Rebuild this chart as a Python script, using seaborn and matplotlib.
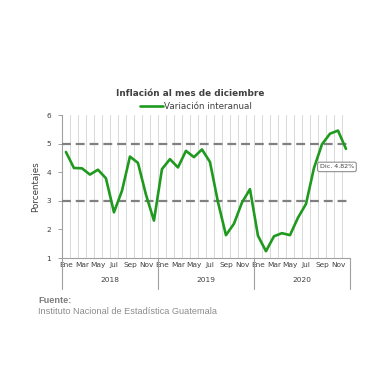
import matplotlib
matplotlib.use("Agg")
import matplotlib.pyplot as plt
import matplotlib.transforms as mtransforms
from matplotlib.lines import Line2D
import seaborn as sns
import pandas as pd

# ---- data ----
years = ["2018", "2019", "2020"]
months = ["Ene", "Feb", "Mar", "Abr", "May", "Jun", "Jul", "Ago", "Sep", "Oct", "Nov", "Dic"]
vals_2018 = [4.71, 4.15, 4.14, 3.92, 4.09, 3.79, 2.60, 3.35, 4.55, 4.33, 3.22, 2.31]
vals_2019 = [4.11, 4.46, 4.17, 4.75, 4.53, 4.80, 4.36, 2.96, 1.80, 2.20, 2.94, 3.41]
vals_2020 = [1.78, 1.24, 1.76, 1.87, 1.80, 2.41, 2.89, 4.15, 4.98, 5.35, 5.46, 4.82]
ref_lines = [3, 5]
title = "Inflación al mes de diciembre"
series_label = "Variación interanual"
last_label = "Dic. 4.82%"

values = vals_2018 + vals_2019 + vals_2020
df = pd.DataFrame({
    "idx": list(range(len(values))),
    "valor": values,
    "mes": months * len(years),
})

sns.set_style("white")
plt.rcParams["font.family"] = ["DejaVu Sans"]

fig = plt.figure(figsize=(3.8, 3.8), dpi=100)
ax = fig.add_axes([0.163, 0.321, 0.758, 0.376])

green = "#1f9a1f"
sns.lineplot(data=df, x="idx", y="valor", ax=ax, color=green, linewidth=1.9,
             label=series_label, zorder=4)

for r in ref_lines:
    ax.axhline(r, color="#808080", linewidth=1.6, dashes=(4, 2.2), zorder=3)

n = len(values)
ax.set_xlim(-0.5, n - 0.5)
ax.set_ylim(1, 6)
ax.set_yticks([1, 2, 3, 4, 5, 6])

# monthly vertical gridlines at category boundaries
ax.set_xticks([i + 0.5 for i in range(-1, n)], minor=True)
ax.grid(True, which="minor", axis="x", color="#d9d9d9", linewidth=0.7)
ax.grid(False, which="major")

major_pos = list(range(0, n, 2))
ax.set_xticks(major_pos)
ax.set_xticklabels([df["mes"][i] for i in major_pos], fontsize=5.3, color="#404040")
ax.tick_params(axis="x", which="both", length=0, pad=3)
ax.tick_params(axis="y", which="major", length=3, width=0.7, color="#a0a0a0",
               labelsize=5.3, labelcolor="#404040", pad=5, left=True)

for s in ["top", "right"]:
    ax.spines[s].set_visible(False)
for s in ["left", "bottom"]:
    ax.spines[s].set_color("#a0a0a0")
    ax.spines[s].set_linewidth(0.8)

ax.set_xlabel("")
ax.set_ylabel("Porcentajes", fontsize=6.3, color="#404040", labelpad=4)

# year labels and separators
trans = mtransforms.blended_transform_factory(ax.transData, ax.transAxes)
for k, y in enumerate(years):
    ax.text(k * 12 + 5.5, -0.155, y, transform=trans, ha="center", va="center",
            fontsize=5.3, color="#404040")
for b in [-0.5 + 12 * k for k in range(len(years) + 1)]:
    ax.add_line(Line2D([b, b], [0, -0.215], transform=trans, color="#a0a0a0",
                       linewidth=0.8, clip_on=False))

# last value label
ax.annotate(last_label, xy=(n - 1, values[-1]), xytext=(-6.5, -13),
            textcoords="offset points", ha="center", va="center",
            fontsize=4.6, color="#404040",
            bbox=dict(boxstyle="round,pad=0.35,rounding_size=0.3", fc="white",
                      ec="#909090", lw=0.8), zorder=6)

# legend and title
ax.legend(loc="lower center", bbox_to_anchor=(0.466, 0.99), frameon=False,
          fontsize=6.3, handlelength=2.6, handletextpad=0.1, borderpad=0.1,
          labelcolor="#404040")
fig.text(0.5, 0.755, title, ha="center", va="center", fontsize=6.4,
         fontweight="bold", color="#404040")

# footer
fig.text(0.1, 0.21, "Fuente:", fontsize=6.6, fontweight="bold", color="#7f7f7f",
         family="Liberation Sans", va="center")
fig.text(0.1, 0.181, "Instituto Nacional de Estadística Guatemala", fontsize=6.6,
         color="#8c8c8c", family="Liberation Sans", va="center")

fig.savefig("out.png", dpi=100, facecolor="white")
